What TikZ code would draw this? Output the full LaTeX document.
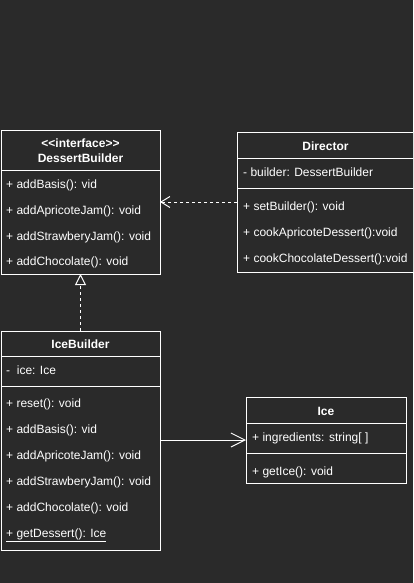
\documentclass[tikz,border=0pt]{standalone}
\usepackage{fontspec}
\setmainfont{Liberation Sans}[Ligatures=TeXOff]
\usetikzlibrary{arrows.meta}
\definecolor{bg}{HTML}{2A2A2A}
\begin{document}
\begin{tikzpicture}[x=1pt,y=-1pt,
  box/.style={draw=white, line width=1pt, fill=bg, anchor=north west, inner sep=0pt, outer sep=0pt},
  lbl/.style={text=white, font=\fontsize{12}{14}\selectfont, anchor=west, inner sep=0pt, text height=10.5pt, text depth=1.5pt},
  ttl/.style={text=white, font=\bfseries\fontsize{12}{15}\selectfont, anchor=center, inner sep=0pt, align=center},
  div/.style={draw=white, line width=1pt},
  conn/.style={draw=white, line width=1pt}]
\useasboundingbox (0,0) rectangle (413,583);
\clip (0,0) rectangle (413,583);
\fill[bg] (0,0) rectangle (413,583);

% DessertBuilder
\node[box, minimum width=159pt, minimum height=144pt] (db) at (1,130) {};
\draw[div] (db.west |- 0,170) -- (db.east |- 0,170);
\node[ttl] (dbt) at (80.5,151) {<<interface>>\\DessertBuilder};
\node[lbl] (db1) at (6,184) {+ addBasis(): vid};
\node[lbl] (db2) at (6,210) {+ addApricoteJam(): void};
\node[lbl] (db3) at (6,235.5) {+ addStrawberyJam(): void};
\node[lbl] (db4) at (6,261) {+ addChocolate(): void};

% Director
\node[box, minimum width=177pt, minimum height=140pt] (dir) at (237,132) {};
\draw[div] (dir.west |- 0,158) -- (dir.east |- 0,158);
\draw[div] (dir.west |- 0,188) -- (dir.east |- 0,188);
\node[ttl] (dirt) at (325.5,146) {Director};
\node[lbl] (dir0) at (243,172) {- builder: DessertBuilder};
\node[lbl] (dir1) at (243,206) {+ setBuilder(): void};
\node[lbl] (dir2) at (243,232) {+ cookApricoteDessert():void};
\node[lbl] (dir3) at (243,258) {+ cookChocolateDessert():void};

% IceBuilder
\node[box, minimum width=159pt, minimum height=219pt] (ib) at (1,331) {};
\draw[div] (ib.west |- 0,356) -- (ib.east |- 0,356);
\draw[div] (ib.west |- 0,386) -- (ib.east |- 0,386);
\node[ttl] (ibt) at (80.5,344.5) {IceBuilder};
\node[lbl] (ib0) at (6,370) {- \ ice: Ice};
\node[lbl] (ib1) at (6,403) {+ reset(): void};
\node[lbl] (ib2) at (6,429) {+ addBasis(): vid};
\node[lbl] (ib3) at (6,455) {+ addApricoteJam(): void};
\node[lbl] (ib4) at (6,481) {+ addStrawberyJam(): void};
\node[lbl] (ib5) at (6,507) {+ addChocolate(): void};
\node[lbl] (ib6) at (6,533) {\underline{+ getDessert(): Ice}};

% Ice
\node[box, minimum width=160pt, minimum height=86pt] (ice) at (246,397) {};
\draw[div] (ice.west |- 0,423) -- (ice.east |- 0,423);
\draw[div] (ice.west |- 0,453) -- (ice.east |- 0,453);
\node[ttl] (icet) at (326,411) {Ice};
\node[lbl] (ice0) at (252,437) {+ ingredients: string[ ]};
\node[lbl] (ice1) at (252,471) {+ getIce(): void};

% connectors
\draw[conn, dash pattern=on 3pt off 3pt, -{Straight Barb[length=9pt,width=11pt]}] (dir.west) -- (db.east |- dir.west);
\draw[conn, dash pattern=on 3pt off 3pt, -{Triangle[length=11pt,width=11pt,fill=bg]}] (ib.north) -- (db.south);
\draw[conn, -{Straight Barb[length=14pt,width=14pt]}] (ib.east |- ice.west) -- (ice.west);
\end{tikzpicture}
\end{document}
